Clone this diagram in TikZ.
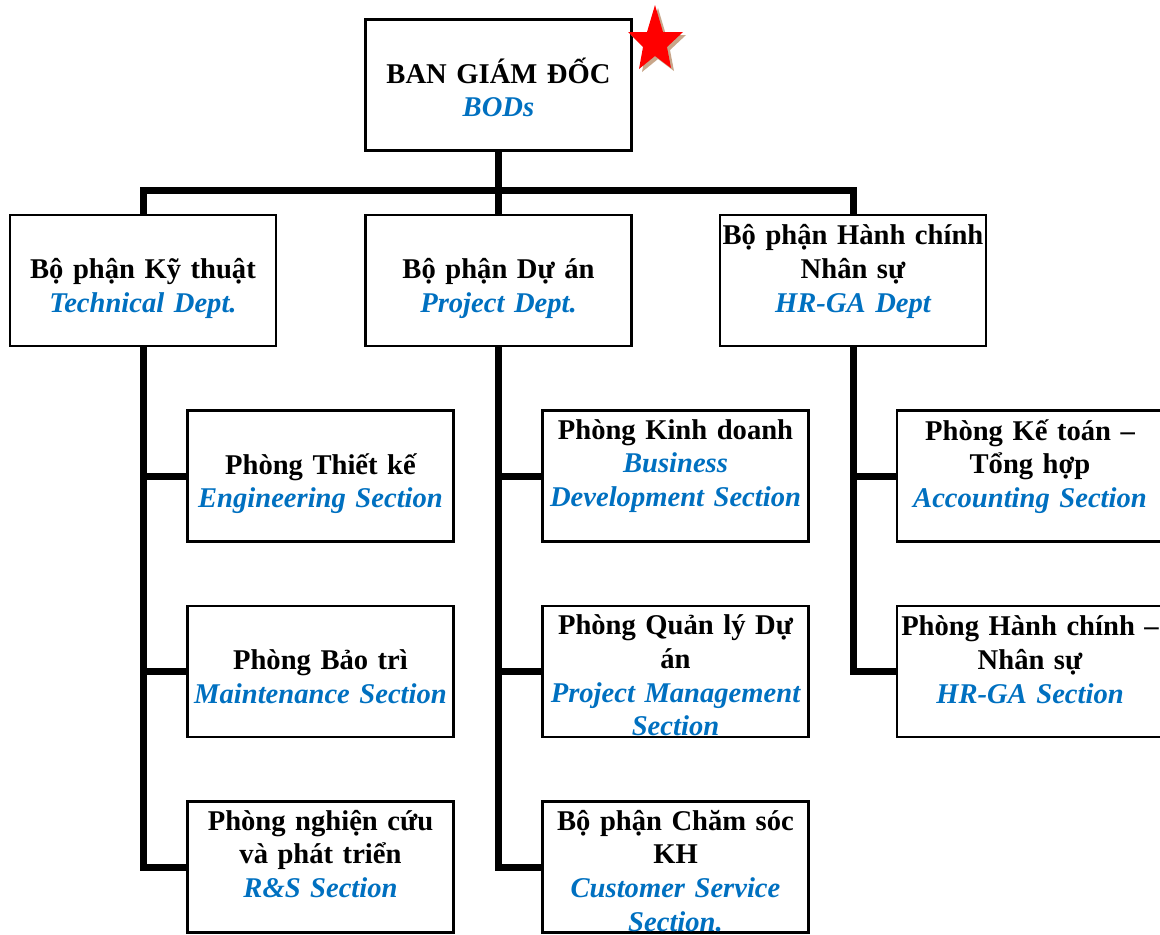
\documentclass[tikz,border=0pt]{standalone}
\usepackage{fontspec}
\setmainfont{Liberation Serif}[WordSpace=0.8]
\usepackage{xcolor}
\usetikzlibrary{positioning}

\definecolor{enblue}{HTML}{0070C0}
\definecolor{starshadow}{HTML}{C8A68A}
\newcommand{\en}[1]{{\color{enblue}\itshape #1}}

\begin{document}
\begin{tikzpicture}[x=0.5pt,y=-0.5pt]
\tikzset{box/.style={draw,line width=1.2pt,minimum width=133pt,minimum height=65.5pt,inner sep=0pt},
  txt/.style={anchor=base,align=center,text width=160pt,inner sep=0pt,
    font=\bfseries\fontsize{14.3}{16.8}\selectfont},
  bus/.style={line width=3.5pt}}
\useasboundingbox (0,0) rectangle (1160,934);
% top
\node[box] (bod) at (498.5,85) {};
\node[txt] (bodt) at ([yshift=-32.5pt]bod.north) {BAN GIÁM ĐỐC\\\en{BODs}};
% departments
\node[box] (td) at (143,280.5) {};
\node[box] (pd) at (498.5,280.5) {};
\node[box] (hr) at (853,280.5) {};
\node[txt] (tdt) at ([yshift=-32.5pt]td.north) {Bộ phận Kỹ thuật\\\en{Technical Dept.}};
\node[txt] (pdt) at ([yshift=-32.5pt]pd.north) {Bộ phận Dự án\\\en{Project Dept.}};
\node[txt] (hrt) at ([yshift=-15.5pt]hr.north) {Bộ phận Hành chính\\Nhân sự\\\en{HR-GA Dept}};
% sections
\node[box] (es) at (320.5,476) {};
\node[box] (ms) at (320.5,671.5) {};
\node[box] (rs) at (320.5,867) {};
\node[box] (bs) at (675.5,476) {};
\node[box] (pm) at (675.5,671.5) {};
\node[box] (cs) at (675.5,867) {};
\node[box] (ac) at (1030,476) {};
\node[box] (hs) at (1030,671.5) {};
\node[txt] (est) at ([yshift=-32.5pt]es.north) {Phòng Thiết kế\\\en{Engineering Section}};
\node[txt] (mst) at ([yshift=-32.5pt]ms.north) {Phòng Bảo trì\\\en{Maintenance Section}};
\node[txt] (rst) at ([yshift=-15pt]rs.north) {Phòng nghiện cứu\\và phát triển\\\en{R\&S Section}};
\node[txt] (bst) at ([yshift=-15pt]bs.north) {Phòng Kinh doanh\\\en{Business}\\\en{Development Section}};
\node[txt] (pmt) at ([yshift=-15pt]pm.north) {Phòng Quản lý Dự\\án\\\en{Project Management}\\\en{Section}};
\node[txt] (cst) at ([yshift=-15pt]cs.north) {Bộ phận Chăm sóc\\KH\\\en{Customer Service}\\\en{Section.}};
\node[txt] (act) at ([yshift=-15.5pt]ac.north) {Phòng Kế toán –\\Tổng hợp\\\en{Accounting Section}};
\node[txt] (hst) at ([yshift=-15.5pt]hs.north) {Phòng Hành chính –\\Nhân sự\\\en{HR-GA Section}};
% star
\fill[starshadow] (658,8) -- (650,35) -- (631,35) -- (646,50) -- (642,72) -- (658,59)
  -- (674,71) -- (670,50) -- (686,35) -- (666,35) -- cycle;
\fill[red] (655,5) -- (647,32) -- (628,32) -- (643,47) -- (639,69) -- (655,56)
  -- (671,68) -- (667,47) -- (683,32) -- (663,32) -- cycle;
% lines
\coordinate (hub) at (498.5,190);
\draw[bus] (bod.south) -- (pd.north);
\draw[bus] (td.north) |- (hub) -| (hr.north);
\draw[bus] (td.south) |- (rs.west);
\draw[bus] (td.south |- es.west) -- (es.west);
\draw[bus] (td.south |- ms.west) -- (ms.west);
\draw[bus] (pd.south) |- (cs.west);
\draw[bus] (pd.south |- bs.west) -- (bs.west);
\draw[bus] (pd.south |- pm.west) -- (pm.west);
\draw[bus] (hr.south) |- (hs.west);
\draw[bus] (hr.south |- ac.west) -- (ac.west);
\end{tikzpicture}
\end{document}
